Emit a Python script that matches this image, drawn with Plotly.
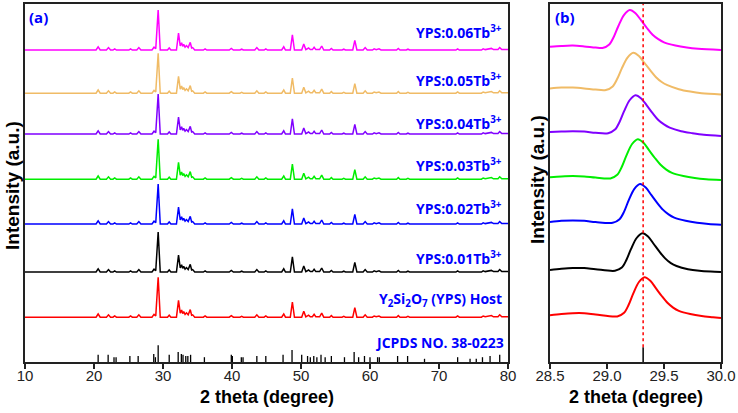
import plotly.graph_objects as go

# ---------------- data ----------------
# Panel (a): XRD pattern vertices (2θ, relative intensity, main peak = 100)
pattern_x = [10, 20.3, 20.6, 20.9, 21.8, 22.1, 22.4, 22.75, 23.0, 23.25, 25.05, 25.3, 25.55,
             26.2, 26.5, 26.8, 28.4, 28.7, 28.95, 29.3, 29.6, 30.65, 30.9, 31.15,
             31.95, 32.25, 32.5, 32.7, 32.85, 33.0, 33.2, 33.4, 33.65, 33.95, 34.15, 34.3, 34.6,
             35.85, 36.1, 36.35, 39.6, 39.9, 40.2, 41.15, 41.4, 41.65, 43.3, 43.6, 43.9,
             44.65, 44.9, 45.15, 47.2, 47.5, 47.75, 48.45, 48.75, 49.05,
             50.1, 50.4, 50.7, 51.1, 51.35, 51.65, 51.9, 52.15, 52.7, 53.0, 53.3,
             54.15, 54.4, 54.65, 55.95, 56.2, 56.45, 57.5, 57.8, 58.1, 59.0, 59.3, 59.6,
             60.35, 60.6, 60.9, 61.3, 61.6, 63.85, 64.1, 64.35, 65.25, 65.5, 65.75,
             72.45, 72.7, 72.95, 76.15, 76.4, 76.7, 77.6, 77.9, 78.55, 78.8, 79.1, 80]
pattern_y = [0, 0, 8, 0, 0, 6, 0, 0, 3, 0, 0, 3, 0,
             0, 6, 0, 0, 7, 3, 100, 0, 0, 5, 0,
             0, 42, 10, 18, 9, 14, 7, 11, 6, 19, 5, 6, 0,
             0, 3, 0, 0, 4, 0, 0, 2, 0, 0, 6, 0,
             0, 3, 0, 0, 8, 0, 0, 38, 0,
             0, 15, 1, 5, 1, 1, 7, 1, 1, 10, 0,
             0, 4, 0, 0, 2, 0, 0, 24, 0, 0, 6, 0,
             0, 3, 1, 3, 0, 0, 4, 0, 0, 2, 0,
             0, 3, 0, 0, 3, 1, 4, 1, 1, 6, 1, 1]

# JCPDS 38-0223 reference lines
jcpds_pos = [20.6, 22.05, 22.9, 23.2, 25.2, 26.4, 28.66, 28.9, 29.3, 30.9, 32.2, 32.66, 32.9,
             33.3, 33.6, 34.0, 36.0, 39.9, 40.05, 41.35, 41.6, 43.6, 44.9, 47.4, 48.7,
             50.1, 50.95, 51.35, 51.85, 52.3, 52.9, 53.5, 54.4, 56.3, 57.7, 58.35, 59.2,
             60.0, 61.1, 61.35, 64.0, 65.45, 67.9, 72.7, 74.5, 75.4, 76.3, 77.4, 78.8]
jcpds_int = [18, 18, 12, 12, 15, 15, 20, 12, 42, 18, 25, 20, 18,
             15, 15, 18, 12, 18, 15, 12, 12, 15, 15, 18, 30,
             18, 15, 12, 15, 12, 18, 12, 15, 12, 25, 12, 15,
             12, 12, 12, 15, 15, 8, 12, 8, 8, 12, 15, 18]

sample_names = ["Y<sub>2</sub>Si<sub>2</sub>O<sub>7</sub> (YPS) Host",
                "YPS:0.01Tb<sup>3+</sup>", "YPS:0.02Tb<sup>3+</sup>",
                "YPS:0.03Tb<sup>3+</sup>", "YPS:0.04Tb<sup>3+</sup>",
                "YPS:0.05Tb<sup>3+</sup>", "YPS:0.06Tb<sup>3+</sup>"]
colors = ["#ff0000", "#000000", "#0000ff", "#00ee00", "#8000ff", "#f0bb66", "#ff00ff"]
offsets_a = [112, 225, 345, 457, 570, 672, 780]

# Panel (b): zoom of the main (29.3°) reflection
zoom_x = [
    [28.5, 28.6, 28.7, 28.8, 28.9, 29.09, 29.15, 29.19, 29.23, 29.28, 29.33, 29.38, 29.43, 29.48, 29.53, 29.58, 29.63, 29.73, 29.83, 29.93, 30.0],
    [28.5, 28.6, 28.7, 28.8, 28.9, 29.07, 29.13, 29.17, 29.21, 29.26, 29.31, 29.36, 29.41, 29.46, 29.51, 29.56, 29.61, 29.71, 29.81, 29.91, 30.0],
    [28.5, 28.6, 28.7, 28.8, 28.9, 29.05, 29.11, 29.15, 29.19, 29.24, 29.29, 29.34, 29.39, 29.44, 29.49, 29.54, 29.59, 29.69, 29.79, 29.89, 30.0],
    [28.5, 28.6, 28.7, 28.8, 28.9, 29.03, 29.09, 29.13, 29.17, 29.22, 29.27, 29.32, 29.37, 29.42, 29.47, 29.52, 29.57, 29.67, 29.77, 29.87, 30.0],
    [28.5, 28.6, 28.7, 28.8, 28.9, 29.01, 29.07, 29.11, 29.15, 29.20, 29.25, 29.30, 29.35, 29.40, 29.45, 29.50, 29.55, 29.65, 29.75, 29.85, 30.0],
    [28.5, 28.6, 28.7, 28.8, 28.9, 28.99, 29.05, 29.09, 29.13, 29.18, 29.23, 29.28, 29.33, 29.38, 29.43, 29.48, 29.53, 29.63, 29.73, 29.83, 30.0],
    [28.5, 28.6, 28.7, 28.8, 28.9, 28.96, 29.02, 29.06, 29.10, 29.15, 29.20, 29.25, 29.30, 29.35, 29.40, 29.45, 29.50, 29.60, 29.70, 29.80, 30.0],
]
zoom_y = [
    [0, 3, 5, 5, 2, -3, 6, 26, 54, 83, 95, 86, 67, 48, 31, 19, 11, 3, -2, -5, -7],
    [0, 3, 5, 5, 2, -2, 6, 25, 52, 80, 92, 84, 65, 46, 29, 17, 10, 2, -2, -4, -5],
    [0, 3, 4, 3, 0, -2, 7, 26, 54, 83, 95, 86, 67, 48, 31, 19, 11, 3, -2, -5, -7],
    [0, 2, 3, 2, -1, -3, 6, 26, 54, 83, 95, 86, 67, 48, 31, 19, 11, 3, -2, -5, -7],
    [0, 1, 2, 1, -2, -3, 6, 25, 52, 80, 92, 84, 66, 47, 30, 19, 11, 2, -3, -7, -10],
    [0, 2, 2, 0, -3, -4, 5, 24, 50, 77, 89, 81, 63, 45, 28, 16, 8, -2, -8, -12, -15],
    [0, 2, 3, 1, -2, -3, 6, 25, 52, 80, 92, 84, 66, 47, 30, 19, 11, 3, -2, -5, -8],
]
offsets_b = [117, 230, 350, 462, 575, 684, 788]
ref_peak_b = 29.317
ref_int_b = 37

label_y = [157, 260, 385, 492, 597, 705, 825]
jcpds_label_y = 50

# ---------------- figure ----------------
fig = go.Figure()

for name, col, off in zip(sample_names, colors, offsets_a):
    fig.add_trace(go.Scatter(x=pattern_x, y=[v + off for v in pattern_y], mode="lines",
                             line=dict(color=col, width=1.5), xaxis="x", yaxis="y",
                             showlegend=False, hoverinfo="skip"))
sx, sy = [], []
for p, h in zip(jcpds_pos, jcpds_int):
    sx += [p, p, None]
    sy += [0, h, None]
fig.add_trace(go.Scatter(x=sx, y=sy, mode="lines", line=dict(color="black", width=1.3),
                         xaxis="x", yaxis="y", showlegend=False, hoverinfo="skip"))

for xs, ys, col, off in zip(zoom_x, zoom_y, colors, offsets_b):
    fig.add_trace(go.Scatter(x=xs, y=[v + off for v in ys], mode="lines",
                             line=dict(color=col, width=2, shape="spline", smoothing=0.9),
                             xaxis="x2", yaxis="y2", showlegend=False, hoverinfo="skip"))
fig.add_trace(go.Scatter(x=[ref_peak_b, ref_peak_b], y=[0, ref_int_b], mode="lines",
                         line=dict(color="black", width=1.5), xaxis="x2", yaxis="y2",
                         showlegend=False, hoverinfo="skip"))
fig.add_shape(type="line", xref="x2", yref="y2", x0=ref_peak_b, x1=ref_peak_b,
              y0=ref_int_b, y1=895, line=dict(color="#ff0000", width=1.5, dash="dot"))

ann = []
lab_font = dict(family="Open Sans", size=14, color="#0000ff")
for name, yv in zip(sample_names, label_y):
    ann.append(dict(x=80, y=yv, xref="x", yref="y", text="<b>%s</b>" % name,
                    showarrow=False, xanchor="right", yanchor="middle", xshift=-4,
                    font=lab_font))
ann.append(dict(x=80, y=jcpds_label_y, xref="x", yref="y", text="<b>JCPDS NO. 38-0223</b>",
                showarrow=False, xanchor="right", yanchor="middle", xshift=-2, font=lab_font))
ann.append(dict(x=0.037, y=0.958, xref="paper", yref="paper", text="<b>(a)</b>",
                showarrow=False, xanchor="left", yanchor="middle",
                font=dict(family="Open Sans", size=15, color="#0000ff")))
ann.append(dict(x=0.749, y=0.958, xref="paper", yref="paper", text="<b>(b)</b>",
                showarrow=False, xanchor="left", yanchor="middle",
                font=dict(family="Open Sans", size=15, color="#0000ff")))
title_font = dict(family="Liberation Sans", size=18, color="black")
ytitle_font = dict(family="Liberation Sans", size=19, color="black")
ann.append(dict(x=(25 + 508) / 2 / 738, y=(413 - 397) / 413, xref="paper", yref="paper",
                text="<b>2 theta (degree)</b>", showarrow=False, xanchor="center",
                yanchor="middle", font=title_font))
ann.append(dict(x=(550 + 721) / 2 / 738, y=(413 - 397) / 413, xref="paper", yref="paper",
                text="<b>2 theta (degree)</b>", showarrow=False, xanchor="center",
                yanchor="middle", font=title_font))
ann.append(dict(x=12 / 738, y=(413 - 186) / 413, xref="paper", yref="paper",
                text="<b>Intensity (a.u.)</b>", showarrow=False, textangle=-90,
                xanchor="center", yanchor="middle", font=ytitle_font))
ann.append(dict(x=537 / 738, y=(413 - 180) / 413, xref="paper", yref="paper",
                text="<b>Intensity (a.u.)</b>", showarrow=False, textangle=-90,
                xanchor="center", yanchor="middle", font=ytitle_font))

ydom = [(413 - 362) / 413, (413 - 4) / 413]
axis_common = dict(showline=True, linecolor="#222222", linewidth=1.5, mirror=True,
                   showgrid=False, zeroline=False, automargin=False)
tickf = dict(family="Liberation Sans", size=15, color="#222222")
fig.update_layout(
    width=738, height=413, margin=dict(l=0, r=0, t=0, b=0, pad=0, autoexpand=False),
    paper_bgcolor="white", plot_bgcolor="white",
    xaxis=dict(domain=[25 / 738, 508 / 738], range=[10, 80], dtick=10, tick0=10,
               ticks="outside", ticklen=5, tickwidth=1.5, tickcolor="#222222",
               ticklabelstandoff=-6, tickfont=tickf, **axis_common),
    yaxis=dict(domain=ydom, range=[0, 895], showticklabels=False, ticks="", **axis_common),
    xaxis2=dict(domain=[550 / 738, 721 / 738], range=[28.5, 30.0], dtick=0.5, tick0=28.5,
                tickformat=".1f", ticks="outside", ticklen=5, tickwidth=1.5,
                tickcolor="#222222", ticklabelstandoff=-6, tickfont=tickf,
                anchor="y2", **axis_common),
    yaxis2=dict(domain=ydom, range=[0, 895], showticklabels=False, ticks="",
                anchor="x2", **axis_common),
    annotations=ann,
)

fig.write_html("out.html", config={"responsive": False, "displayModeBar": False},
               post_script="document.body.style.margin='0px';document.body.style.overflow='hidden';")
